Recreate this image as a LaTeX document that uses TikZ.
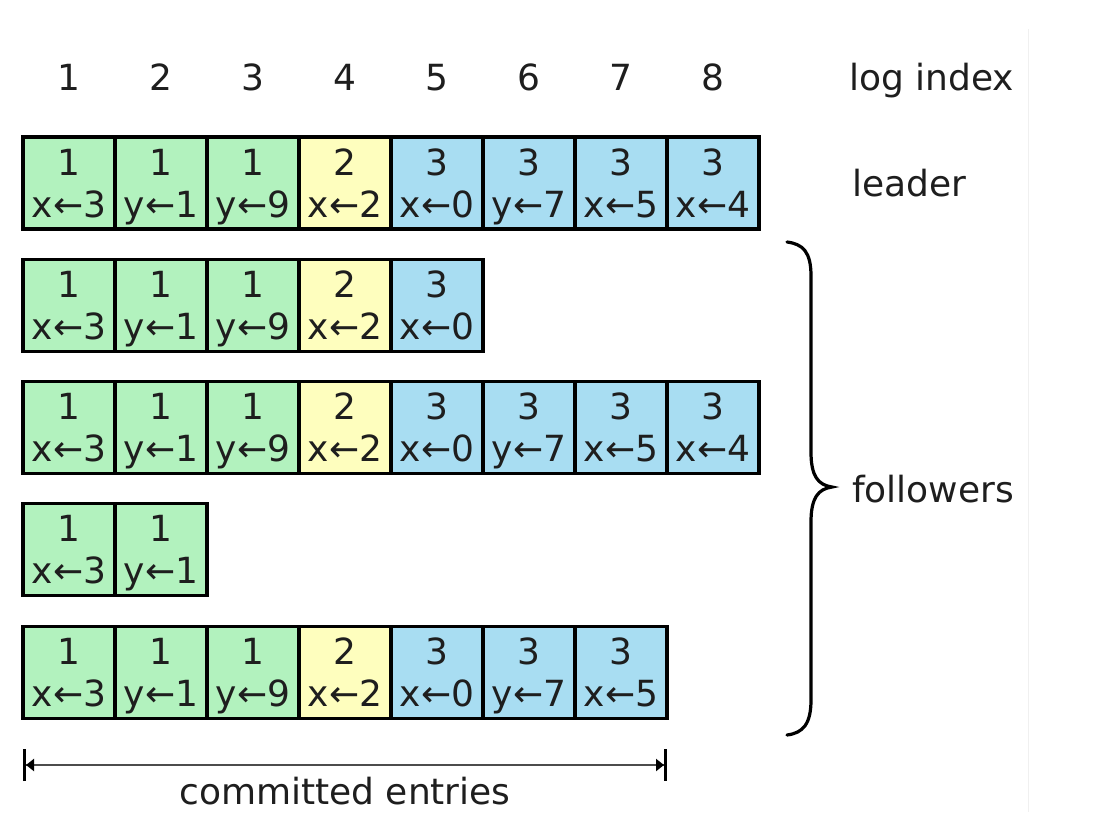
\documentclass[tikz,border=0pt]{standalone}
\usepackage{fontspec}
\setmainfont{DejaVu Sans}
\usetikzlibrary{arrows.meta}
\definecolor{cgreen}{RGB}{178,242,190}
\definecolor{cyellow}{RGB}{254,254,190}
\definecolor{cblue}{RGB}{168,221,242}
\definecolor{txt}{RGB}{30,30,30}
\newcommand{\celltext}[2]{\rule{0pt}{26pt}#1\\\raisebox{0pt}[\height][0pt]{#2}}
\begin{document}
\begin{tikzpicture}[x=1pt,y=-1pt,
  cell/.style={draw=black, line width=3.4pt, minimum width=92pt, minimum height=92pt,
    inner sep=0pt, align=center,
    font=\fontsize{36}{42}\selectfont, text=txt},
  g/.style={cell, fill=cgreen},
  yy/.style={cell, fill=cyellow},
  b/.style={cell, fill=cblue},
  lbl/.style={inner sep=0pt, font=\fontsize{36}{42}\selectfont, text=txt},
  bracestyle/.style={line width=3.2pt, line cap=round, draw=black},
  spanarrow/.style={line width=2.2pt, draw=gray!60!black,
    {Bar[width=32pt,line width=3pt,black]Triangle[width=12pt,length=8pt,black]}-{Triangle[width=12pt,length=8pt,black]Bar[width=32pt,line width=3pt,black]}}]
\useasboundingbox (0,0) rectangle (1098,812);
\fill[white] (0,0) rectangle (1098,812);
\draw[gray!12, line width=1pt] (1028,29) -- (1028,812);

% column indices
\foreach \i in {1,...,8}
  \node[lbl, anchor=base] (idx\i) at ({69+92*(\i-1)},90) {\i};
\node[lbl, anchor=base west] (logindex) at (849,90) {log index};

% entries: list of (term, command, style)
\def\cellrow#1#2#3{%
  \foreach \t/\c/\s [count=\k] in {#3}
    \node[\s] (#1\k) at ({69+92*(\k-1)},#2) {\celltext{\t}{\c}};}

\cellrow{L}{183}{1/x←3/g,1/y←1/g,1/y←9/g,2/x←2/yy,3/x←0/b,3/y←7/b,3/x←5/b,3/x←4/b}
\cellrow{A}{305.5}{1/x←3/g,1/y←1/g,1/y←9/g,2/x←2/yy,3/x←0/b}
\cellrow{B}{427.5}{1/x←3/g,1/y←1/g,1/y←9/g,2/x←2/yy,3/x←0/b,3/y←7/b,3/x←5/b,3/x←4/b}
\cellrow{C}{549.5}{1/x←3/g,1/y←1/g}
\cellrow{D}{672.5}{1/x←3/g,1/y←1/g,1/y←9/g,2/x←2/yy,3/x←0/b,3/y←7/b,3/x←5/b}

\node[lbl, anchor=base west] (leader) at (852,196) {leader};
\node[lbl, anchor=base west] (followers) at (852,502) {followers};

% brace
\coordinate (bt) at (787,242);
\coordinate (bm) at (832,487);
\coordinate (bb) at (787,735);
\draw[bracestyle] (bt) .. controls (803,244) and (811,252) .. (811,276) -- (811,452)
  .. controls (811,476) and (818,485) .. (bm)
  .. controls (818,489) and (811,498) .. (811,522) -- (811,700)
  .. controls (811,724) and (803,733) .. (bb);

% committed entries
\coordinate (ca) at (23,765);
\coordinate (cb) at (667,765);
\draw[spanarrow] (ca) -- (cb);
\node[lbl, anchor=base] (committed) at (345,804) {committed entries};
\end{tikzpicture}
\end{document}
